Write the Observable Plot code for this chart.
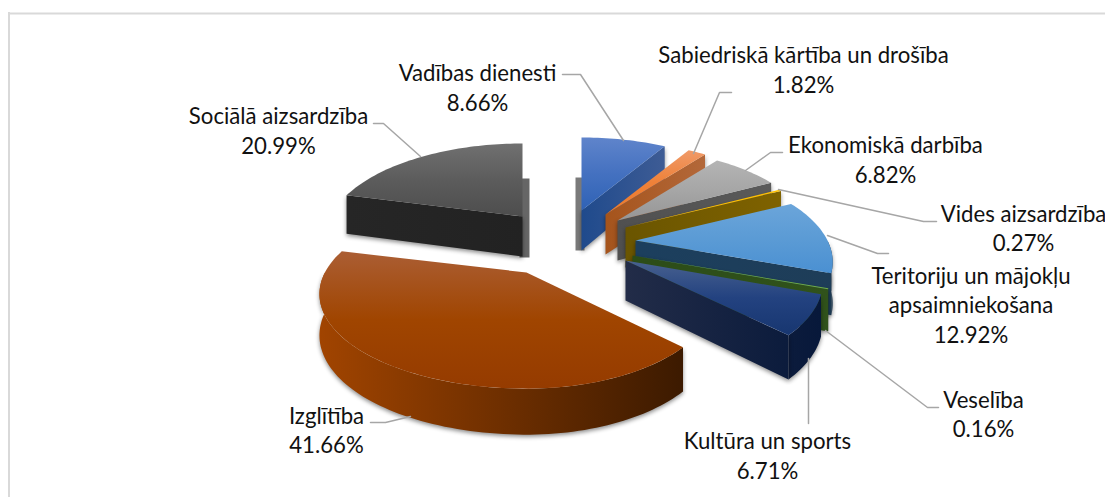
<!DOCTYPE html>
<html lang="lv">
<head>
<meta charset="utf-8">
<script src="https://cdn.jsdelivr.net/npm/d3@7"></script>
<script src="https://cdn.jsdelivr.net/npm/@observablehq/plot@0.6"></script>
<style>
html,body{margin:0;padding:0;background:#fff}
#chart{width:1105px;height:497px;overflow:hidden}
g.pie-wall{filter:drop-shadow(0 2px 2px rgba(0,0,0,.45))}
</style>
</head>
<body>
<div id="chart"></div>
<script>
// ---- data ----
const categories = ["Vadības dienesti","Sabiedriskā kārtība un drošība","Ekonomiskā darbība","Vides aizsardzība","Teritoriju un mājokļu\napsaimniekošana","Veselība","Kultūra un sports","Izglītība","Sociālā aizsardzība"];
const shares = [8.66,1.82,6.82,0.27,12.92,0.16,6.71,41.66,20.99];

// ---- layout ----
const W = 1105, H = 497;
const center = [560,240];
const explode = [[21,-30],[45,-26],[57,-20],[65,-13],[75,0],[72,15],[65,20],[-34,32],[-38,-24]];
const R = 192, tilt = 0.467, persp = 0.228, depth = 40;
const leftStretch = [1,1,1,1,1,1,1,1.05,1];
const rightStretch = [1,1,1,1,1,1,1,0.96,1];
const labelX = [477,803,885,1023,970.5,983,767,326,278];
const labelY = [86,68,158,226.5,303.5,412.5,454,428.5,129];
const labelSize = 22.2;
const leaders = [
  [[562,74],[580,74],[623,140]],
  [[731,92],[719,92],[693,153]],
  [[782,152],[770,152],[745,170]],
  [[778,189],[923,221],[936,221]],
  [[827,235],[877,253],[888,253]],
  [[825,330],[927,407],[938,407]],
  [[808,358],[808,423]],
  [[370,422],[385,422],[410,416]],
  [[373,123],[383,123],[420,156]]
];
const topStops = [
  ["#5f84cb","#4471c0","#2f62b5"],["#f09a68","#ee8139","#ed7b2c"],["#b4b4b4","#a6a6a6","#969696"],
  ["#ffc000","#ffc000","#ffc000"],["#6ba5da","#5b9bd5","#4a90d2"],["#70ad47","#70ad47","#70ad47"],
  ["#48618f","#234280","#173670"],["#ab5e34","#a04500","#953b00"],["#707070","#5c5c5c","#4d4d4d"]
];
const wallStops = [
  ["#1f4a8c","#3e5c95"],["#a5541c","#b3683a"],["#505050","#5a5a5a"],["#6a5500","#7f6200"],
  ["#1c3f5e","#1e3d58"],["#2c4c18","#30521b"],["#222c48","#07183a"],["#a14400","#3c1a00"],["#262626","#222222"]
];
// narrow shadow strips behind two slices: slice, x offsets from apex, rise above apex, drop below, colour
const slivers = [
  {slice:0, dx0:-6, dx1:3, rise:33, drop:40, color:"#7a7a7a"},
  {slice:8, dx0:-3, dx1:7, rise:38, drop:41, color:"#666666"}
];

const rad = d => d * Math.PI / 180;
const cum = d3.cumsum(shares);
const total = d3.sum(shares);
const startA = shares.map((s,i) => (cum[i]-s)/total*360);
const endA = shares.map((s,i) => cum[i]/total*360);

function rimPoint(i,a,down=false){
  const u = Math.sin(rad(a)), v = -Math.cos(rad(a));
  const p = 1/(1-persp*v);
  const ax = center[0]+explode[i][0], ay = center[1]+explode[i][1];
  return {x: ax+R*u*p*(u<0?leftStretch[i]:rightStretch[i]), y: ay+R*tilt*v*p + (down ? depth*(1+0.15*v) : 0)};
}
const apex = (i,down=false) => ({x:center[0]+explode[i][0], y:center[1]+explode[i][1]+(down?depth:0)});
const arc = (a0,a1) => { const n=Math.max(2,Math.ceil((a1-a0)/1.5)); return d3.range(n+1).map(k=>a0+(a1-a0)*k/n); };

const marks = [];
marks.push(() => {
  const defs = d3.create("svg:defs");
  const addStops = (g,stops) => stops.forEach((c,k)=>g.append("stop").attr("offset",k/(stops.length-1)).attr("stop-color",c));
  shares.forEach((_,i)=>{
    addStops(defs.append("linearGradient").attr("id","top"+i).attr("x1",0).attr("y1",0).attr("x2",0).attr("y2",1),topStops[i]);
    const xs=[apex(i).x,...arc(startA[i],endA[i]).map(a=>rimPoint(i,a).x)];
    addStops(defs.append("linearGradient").attr("id","wall"+i).attr("gradientUnits","userSpaceOnUse")
      .attr("x1",d3.min(xs)).attr("y1",0).attr("x2",d3.max(xs)).attr("y2",0),wallStops[i]);
  });
  return defs.node();
});
marks.push(Plot.ruleY([13],{x1:8,x2:W,stroke:"#d9d9d9",strokeWidth:2}));
marks.push(Plot.ruleX([8.5],{y1:12,y2:H,stroke:"#d9d9d9",strokeWidth:2}));

const face = (pts,fill,cls) => Plot.line(pts,{x:"x",y:"y",fill,stroke:"none",className:cls});
slivers.forEach(s=>{
  const a=apex(s.slice);
  marks.push(face([{x:a.x+s.dx0,y:a.y-s.rise},{x:a.x+s.dx1,y:a.y-s.rise},{x:a.x+s.dx1,y:a.y+s.drop},{x:a.x+s.dx0,y:a.y+s.drop}],s.color,"pie-sliver"));
});
shares.forEach((_,i)=>{
  const a0=startA[i], a1=endA[i];
  const wall=`url(#wall${i})`;
  if (a0>180) marks.push(face([apex(i),rimPoint(i,a0),rimPoint(i,a0,true),apex(i,true)],wall,"pie-wall"));
  const f0=Math.max(a0,90), f1=Math.min(a1,270);
  if (f1>f0){
    const as=arc(f0,f1);
    marks.push(face([...as.map(a=>rimPoint(i,a)),...as.slice().reverse().map(a=>rimPoint(i,a,true))],wall,"pie-wall"));
  }
  if (a1<180) marks.push(face([apex(i),rimPoint(i,a1),rimPoint(i,a1,true),apex(i,true)],wall,"pie-wall"));
  marks.push(face([apex(i),...arc(a0,a1).map(a=>rimPoint(i,a))],`url(#top${i})`,"pie-top"));
});
leaders.forEach(l=>marks.push(Plot.line(l,{x:d=>d[0],y:d=>d[1],stroke:"#a6a6a6",strokeWidth:1.5})));
const labelText = categories.map((c,i)=>c+"\n"+shares[i].toFixed(2)+"%");
marks.push(Plot.text(labelText,{x:(d,i)=>labelX[i],y:(d,i)=>labelY[i],text:d=>d,
  fontFamily:"Lato",fontSize:labelSize,lineHeight:1.33,fill:"#111",textAnchor:"middle"}));

const plot = Plot.plot({width:W,height:H,margin:0,
  x:{domain:[0,W],range:[0,W],axis:null},y:{domain:[0,H],range:[0,H],axis:null},marks});
document.getElementById("chart").append(plot);
</script>
</body>
</html>
